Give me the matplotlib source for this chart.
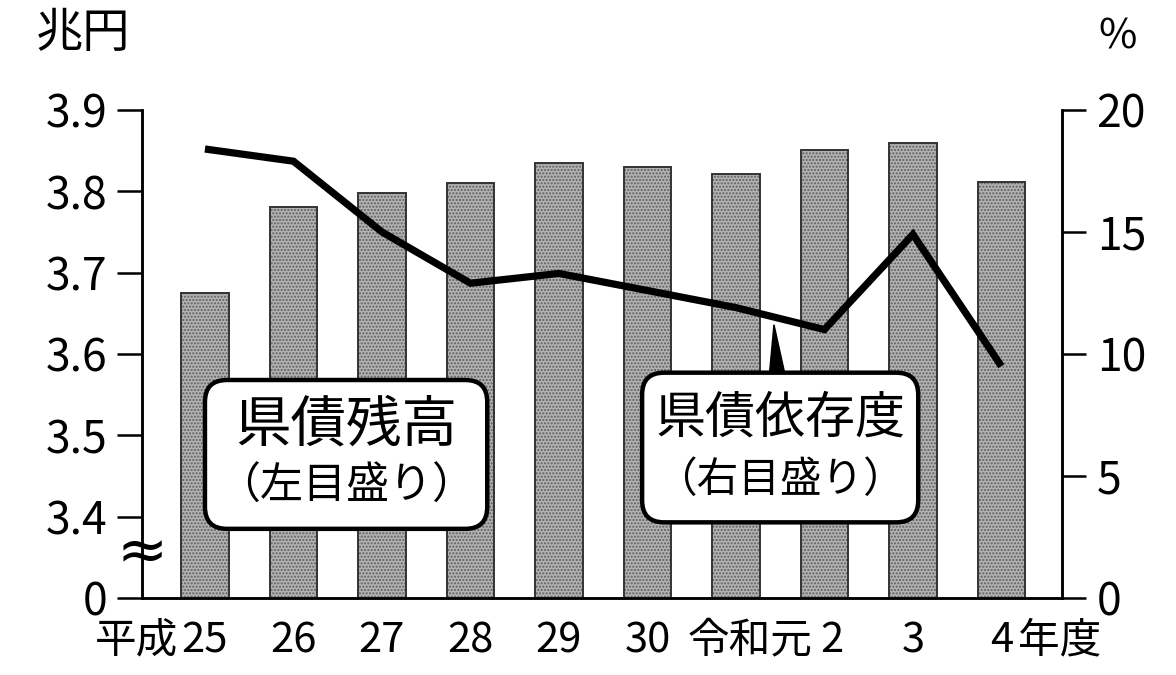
import numpy as np
import matplotlib.pyplot as plt
from matplotlib.patches import FancyBboxPatch, Polygon
from matplotlib.transforms import IdentityTransform, ScaledTranslation

plt.rcParams['font.family'] = ['Noto Sans CJK JP', 'DejaVu Sans']

# 年度ラベル (平成25 ～ 令和4年度)
years = ['25', '26', '27', '28', '29', '30', '令和元', '2', '3', '4']
# 県債残高 (兆円, 左目盛り)
debt = [3.675, 3.781, 3.798, 3.810, 3.835, 3.830, 3.821, 3.851, 3.859, 3.811]
# 県債依存度 (%, 右目盛り)
ratio = [18.4, 17.9, 15.0, 12.9, 13.3, 12.6, 11.9, 11.0, 14.9, 9.5]

left_ticks = [3.3, 3.4, 3.5, 3.6, 3.7, 3.8, 3.9]
left_labels = ['0', '3.4', '3.5', '3.6', '3.7', '3.8', '3.9']
right_ticks = [0, 5, 10, 15, 20]
BASE = 3.3  # 省略した区間の下端 (=0 として表示)

fig = plt.figure(figsize=(11.76, 6.75), dpi=100)
ax = fig.add_axes([0.1207, 0.1141, 0.7823, 0.7230])
ax2 = ax.twinx()

x = np.arange(len(years))
heights = np.array(debt) - BASE

# bars: dotted grey fill, then dark outline
ax.bar(x, heights, bottom=BASE, width=0.54, color='#b2b2b2',
       edgecolor='#5e5e5e', hatch='.....', linewidth=0, zorder=2)
ax.bar(x, heights, bottom=BASE, width=0.54, fill=False,
       edgecolor='#333333', linewidth=1.4, zorder=3)

ax2.plot(x, ratio, color='black', lw=5.2, solid_joinstyle='miter',
         solid_capstyle='butt', zorder=4)

ax.set_xlim(-0.712, 9.684)
ax.set_ylim(3.3, 3.9)
ax2.set_ylim(0, 20)

for a in (ax, ax2):
    a.spines['top'].set_visible(False)
    for s in ('left', 'right', 'bottom'):
        a.spines[s].set_linewidth(1.8)

ax.set_yticks(left_ticks, left_labels)
ax2.set_yticks(right_ticks, [str(t) for t in right_ticks])
ax.tick_params(axis='y', length=18, width=1.8, pad=7, labelsize=32)
ax2.tick_params(axis='y', length=17, width=1.8, pad=8, labelsize=32)
ax.set_xticks(x, years)
ax.tick_params(axis='x', length=0, pad=16, labelsize=30)

# 令和元 / 2 sit a little right of their bars in the original
for i, dx in ((6, 14), (7, 8)):
    lab = ax.get_xticklabels()[i]
    lab.set_transform(lab.get_transform() +
                      ScaledTranslation(dx / 100, 0, fig.dpi_scale_trans))

# 平成 / 年度 beside the first and last labels
ax.annotate('平成', xy=(0, 0), xycoords=('data', 'axes fraction'),
            xytext=(-19, -16), textcoords='offset points',
            ha='right', va='top', fontsize=30)
ax.annotate('年度', xy=(9, 0), xycoords=('data', 'axes fraction'),
            xytext=(12, -16), textcoords='offset points',
            ha='left', va='top', fontsize=30)

# units
fig.text(0.071, 0.950, '兆円', ha='center', va='center', fontsize=34)
fig.text(0.950, 0.945, '%', ha='center', va='center', fontsize=30)

# break mark on the left axis
ax2.text(0, 0.09, '≈', transform=ax.transAxes, ha='center',
         va='center', fontsize=44, family='DejaVu Sans', zorder=6,
         clip_on=False)


def label_box(x0, x1, y0, y1, title, sub, tsize, ssize):
    (px0, py0) = ax.transData.transform((x0, y0))
    (px1, py1) = ax.transData.transform((x1, y1))
    box = FancyBboxPatch((px0, py0), px1 - px0, py1 - py0,
                         boxstyle='round,pad=0,rounding_size=22',
                         transform=IdentityTransform(), facecolor='white',
                         edgecolor='black', linewidth=3.2, zorder=7)
    ax2.add_patch(box)
    xc = (x0 + x1) / 2
    # texts on ax2 so they sit above the box
    ax2.text(xc, y1 - (y1 - y0) * 0.31, title, ha='center', va='center',
             fontsize=tsize, zorder=8, transform=ax.transData)
    ax2.text(xc, y1 - (y1 - y0) * 0.72, sub, ha='center', va='center',
             fontsize=ssize, zorder=8, transform=ax.transData)


label_box(0.0, 3.19, 3.385, 3.568, '県債残高', '（左目盛り）', 40, 31)
label_box(4.94, 8.06, 3.393, 3.577, '県債依存度', '（右目盛り）', 36, 30)

# pointer from the second box up to the line
apex = ax2.transData.transform((6.43, 11.2))
b_l = ax.transData.transform((6.38, 3.577))
b_r = ax.transData.transform((6.55, 3.577))
ax2.add_patch(Polygon([apex, b_l, b_r], closed=True, facecolor='black',
                      edgecolor='black', transform=IdentityTransform(),
                      zorder=7))

fig.savefig('out.png', dpi=100)
